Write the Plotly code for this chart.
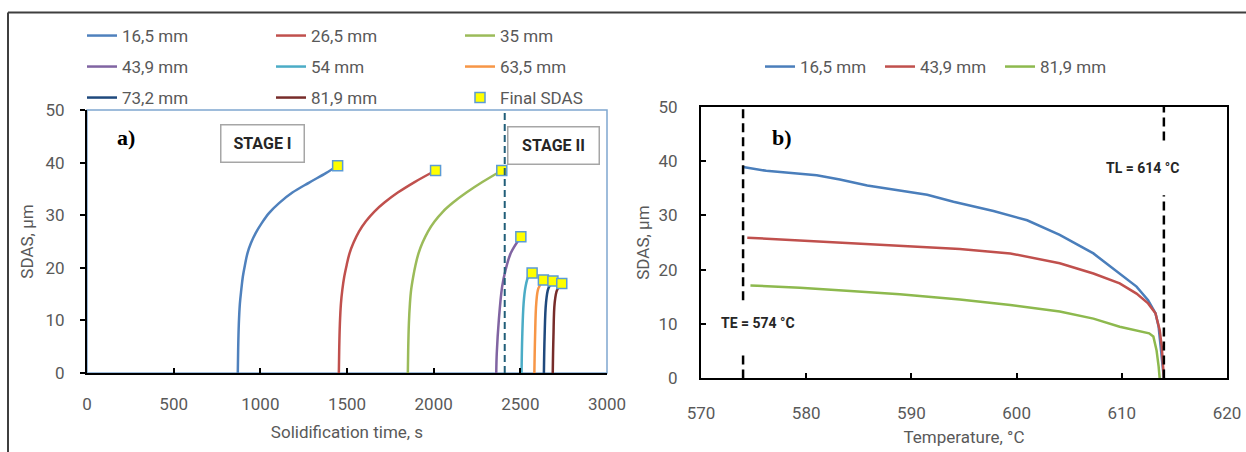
import plotly.graph_objects as go

W, H = 1246, 452
FONT = "Roboto, Liberation Sans, Arial, sans-serif"
GREY = "#595959"

# ---------------- Panel a) : SDAS vs solidification time ----------------
t_16_5 = [870, 872, 876, 882, 890, 899, 911, 926, 946, 973, 1008, 1050, 1108, 1185, 1282, 1378, 1446]
v_16_5 = [0, 4.4, 9.4, 13.2, 15.8, 18.3, 20.5, 22.8, 24.7, 26.6, 28.5, 30.4, 32.3, 34.3, 36.2, 38.0, 39.4]
t_26_5 = [1453, 1455, 1459, 1465, 1473, 1484, 1498, 1515, 1538, 1569, 1608, 1658, 1716, 1793, 1890, 2011]
v_26_5 = [0, 4.4, 9.4, 13.2, 15.8, 18.3, 20.5, 22.8, 24.8, 26.9, 28.8, 30.7, 32.4, 34.3, 36.3, 38.5]
t_35 = [1851, 1853, 1857, 1863, 1870, 1882, 1895, 1913, 1936, 1967, 2005, 2054, 2112, 2189, 2281, 2393]
v_35 = [0, 4.4, 9.4, 13.2, 15.8, 18.3, 20.5, 22.8, 24.8, 26.9, 28.8, 30.7, 32.4, 34.3, 36.3, 38.5]
t_43_9 = [2361, 2364, 2376, 2395, 2415, 2445, 2503]
v_43_9 = [0, 3.7, 10.1, 16.4, 19.6, 22.8, 25.9]
t_54 = [2507, 2511, 2519, 2530, 2546, 2568]
v_54 = [0, 6.9, 13.3, 16.4, 18.3, 19.0]
t_63_5 = [2581, 2585, 2592, 2604, 2633]
v_63_5 = [0, 6.9, 13.3, 16.1, 17.7]
t_73_2 = [2636, 2640, 2648, 2662, 2688]
v_73_2 = [0, 6.9, 13.3, 16.1, 17.5]
t_81_9 = [2687, 2691, 2698, 2712, 2739]
v_81_9 = [0, 6.9, 13.3, 15.8, 17.0]

left_names = ["16,5 mm", "26,5 mm", "35 mm", "43,9 mm", "54 mm", "63,5 mm", "73,2 mm", "81,9 mm"]
left_colors = ["#4F81BD", "#C0504D", "#9BBB59", "#8064A2", "#4BACC6", "#F79646", "#1F497D", "#772C2A"]
left_t = [t_16_5, t_26_5, t_35, t_43_9, t_54, t_63_5, t_73_2, t_81_9]
left_v = [v_16_5, v_26_5, v_35, v_43_9, v_54, v_63_5, v_73_2, v_81_9]
left_legends = ["legend", "legend", "legend", "legend2", "legend2", "legend2", "legend3", "legend3"]
STAGE_BOUNDARY_S = 2410

# ---------------- Panel b) : SDAS vs temperature ----------------
T_16_5 = [574.0, 576.2, 581.0, 583.2, 585.8, 588.9, 591.5, 594.0, 597.8, 601.0, 604.1,
          607.3, 609.8, 611.4, 612.5, 613.2, 613.5, 613.7, 614.0]
S_16_5 = [38.9, 38.2, 37.4, 36.6, 35.5, 34.6, 33.8, 32.5, 30.8, 29.1, 26.4,
          23.0, 19.3, 16.9, 14.4, 12.0, 9.5, 5.8, 0]
T_43_9 = [574.4, 579.4, 584.2, 588.9, 594.6, 599.4, 604.1, 607.3, 609.8, 611.4, 612.5,
          613.2, 613.6, 613.8, 614.0]
S_43_9 = [25.9, 25.4, 24.9, 24.5, 23.8, 23.0, 21.2, 19.3, 17.5, 15.6, 13.8,
          12.0, 8.9, 5.8, 0]
T_81_9 = [574.7, 579.4, 584.2, 588.9, 594.6, 599.4, 604.1, 607.3, 609.8, 612.6, 613.0,
          613.3, 613.5, 613.6]
S_81_9 = [17.1, 16.7, 16.1, 15.5, 14.5, 13.5, 12.3, 11.0, 9.5, 8.3, 7.7,
          5.2, 2.2, 0]
right_names = ["16,5 mm", "43,9 mm", "81,9 mm"]
right_colors = ["#4A7EBB", "#C0504D", "#8DB94E"]
right_T = [T_16_5, T_43_9, T_81_9]
right_S = [S_16_5, S_43_9, S_81_9]
TE = 574
TL = 614

fig = go.Figure()

for name, col, tt, vv, lg in zip(left_names, left_colors, left_t, left_v, left_legends):
    fig.add_trace(go.Scatter(x=tt, y=vv, mode="lines", name=name, legend=lg,
                             line=dict(color=col, width=2.5, shape="spline", smoothing=1.0),
                             xaxis="x", yaxis="y", showlegend=True))

fig.add_trace(go.Scatter(x=[tt[-1] for tt in left_t], y=[vv[-1] for vv in left_v],
                         mode="markers", name="Final SDAS", legend="legend3",
                         marker=dict(symbol="square", size=10, color="#FFFF00",
                                     line=dict(color="#5B9BD5", width=1.5)),
                         xaxis="x", yaxis="y"))

for name, col, tt, ss in zip(right_names, right_colors, right_T, right_S):
    fig.add_trace(go.Scatter(x=tt, y=ss, mode="lines", name=name, legend="legend4",
                             line=dict(color=col, width=2.5), xaxis="x2", yaxis="y2"))


def px(x):
    return x / W


def py(y):
    return 1 - y / H


tickfont = dict(family=FONT, size=17, color=GREY)
titlefont = dict(family=FONT, size=17, color=GREY)

common_axis = dict(showgrid=False, zeroline=False, showline=True, linecolor="black",
                   linewidth=2, tickcolor="black", tickwidth=1.5, ticklen=5,
                   tickfont=tickfont)

fig.update_layout(
    width=W, height=H, margin=dict(l=0, r=0, t=0, b=0, autoexpand=False),
    paper_bgcolor="white", plot_bgcolor="white",
    xaxis=dict(domain=[px(87), px(607)], anchor="y", range=[0, 3000], dtick=500, tick0=0,
               ticks="inside", ticklabelstandoff=15,
               title=dict(text="Solidification time, s", font=titlefont, standoff=13),
               **common_axis),
    yaxis=dict(domain=[py(373), py(110)], anchor="x", range=[0, 50], dtick=10,
               ticks="outside", ticklabelstandoff=12,
               title=dict(text="SDAS, µm", font=titlefont, standoff=8),
               **common_axis),
    xaxis2=dict(domain=[px(701), px(1227)], anchor="y2", range=[570, 620], dtick=10,
                ticks="inside", ticklabelstandoff=18, mirror=True,
                title=dict(text="Temperature, °C", font=titlefont, standoff=9),
                **common_axis),
    yaxis2=dict(domain=[py(378.4), py(106.7)], anchor="x2", range=[0, 50], dtick=10,
                ticks="inside", ticklabelstandoff=18, mirror=True,
                title=dict(text="SDAS, µm", font=titlefont, standoff=5),
                **common_axis),
    showlegend=True,
)

leg_common = dict(orientation="h", xanchor="left", yanchor="middle",
                  entrywidthmode="pixels", bgcolor="rgba(0,0,0,0)",
                  itemwidth=30, tracegroupgap=0, traceorder="normal")
LEGFONT = dict(family=FONT, size=17, color=GREY)
fig.update_layout(
    legend=dict(x=px(82), y=py(36), entrywidth=144, font=LEGFONT, **leg_common),
    legend2=dict(x=px(82), y=py(67), entrywidth=144, font=LEGFONT, **leg_common),
    legend3=dict(x=px(82), y=py(98), entrywidth=144, font=LEGFONT, **leg_common),
    legend4=dict(x=px(760), y=py(67), entrywidth=75, font=LEGFONT, **leg_common),
)

shapes = [
    # outer frame
    dict(type="line", xref="paper", yref="paper", x0=px(8), x1=1, y0=py(12.5), y1=py(12.5),
         line=dict(color="#3F3F3F", width=2)),
    dict(type="line", xref="paper", yref="paper", x0=px(8), x1=px(8), y0=0, y1=py(12.5),
         line=dict(color="#3F3F3F", width=2)),
    # left plot frame
    dict(type="rect", xref="x domain", yref="y domain", x0=0, x1=1, y0=0, y1=1,
         line=dict(color="#7FA7CF", width=1.5), layer="below"),
    # stage boundary
    dict(type="line", xref="x", yref="y", x0=STAGE_BOUNDARY_S, x1=STAGE_BOUNDARY_S, y0=0, y1=50,
         line=dict(color="#215E79", width=2, dash="7px,4px")),
    # TE / TL lines (with gaps behind labels)
    dict(type="line", xref="x2", yref="y2", x0=TE, x1=TE, y0=0, y1=4.7,
         line=dict(color="black", width=2.5, dash="9px,5px")),
    dict(type="line", xref="x2", yref="y2", x0=TE, x1=TE, y0=14.4, y1=50,
         line=dict(color="black", width=2.5, dash="9px,5px")),
    dict(type="line", xref="x2", yref="y2", x0=TL, x1=TL, y0=0, y1=33.7,
         line=dict(color="black", width=2.5, dash="9px,5px")),
    dict(type="line", xref="x2", yref="y2", x0=TL, x1=TL, y0=43.8, y1=50,
         line=dict(color="black", width=2.5, dash="9px,5px")),
]
fig.update_layout(shapes=shapes)

ann_font = dict(family=FONT, size=16, color="#262626", weight="bold")
lab_font = dict(family=FONT, size=14, color="#262626", weight="bold")
serif = dict(family="Liberation Serif, Times New Roman, serif", size=22, color="black")
annotations = [
    dict(text="<b>a)</b>", x=px(126), y=py(138), font=serif),
    dict(text="<b>b)</b>", x=px(782), y=py(137), font=serif),
    dict(text="STAGE I", x=px(262), y=py(143.5), font=ann_font, bordercolor="#A6A6A6",
         borderwidth=1.5, bgcolor="white", width=80, height=34, borderpad=1),
    dict(text="STAGE II", x=px(553.5), y=py(146), font=ann_font, bordercolor="#A6A6A6",
         borderwidth=1.5, bgcolor="white", width=88, height=34, borderpad=1),
    dict(text="TE = 574 °C", x=px(758), y=py(323), font=lab_font),
    dict(text="TL = 614 °C", x=px(1142), y=py(168), font=lab_font),
]
for a in annotations:
    a.update(xref="paper", yref="paper", showarrow=False, xanchor="center", yanchor="middle")
fig.update_layout(annotations=annotations)

fig.write_html("out.html")
